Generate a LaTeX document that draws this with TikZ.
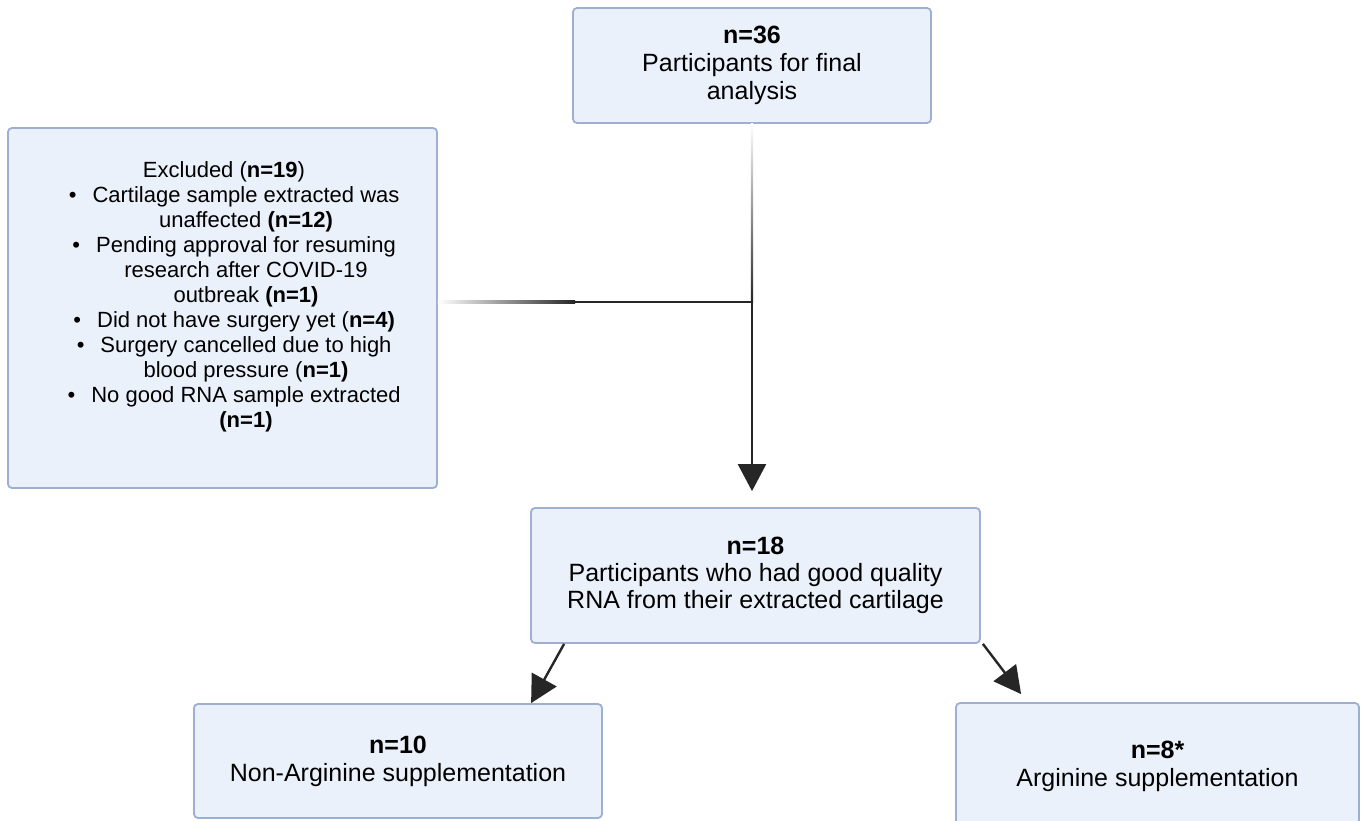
\documentclass[tikz,border=0pt]{standalone}
\usepackage{fontspec}
\setmainfont{Liberation Sans}
\usepackage{tikz}
\usetikzlibrary{arrows.meta}
\usetikzlibrary{calc}

\definecolor{boxfill}{HTML}{EBF1FB}
\definecolor{boxline}{HTML}{9DB0D2}
\definecolor{linecol}{HTML}{262626}
\newcommand{\bul}{\llap{\textbullet\hspace{16pt}}}

\begin{document}
\begin{tikzpicture}[x=1pt, y=-1pt, line width=1pt,
    box/.style={draw=boxline, fill=boxfill, line width=1.8pt, rounded corners=4pt, align=center, inner sep=0pt},
    bigtext/.style={font=\fontsize{25}{28}\selectfont},
    conn/.style={draw=linecol, line width=2.4pt},
    arr/.style={conn, -{Triangle[width=28pt, length=27pt]}}]
    \clip (0, 0) rectangle (1366, 820);

    % draw boxes
    \node[box, bigtext, minimum width=358, minimum height=115] (final) at (752, 65.5) {\textbf{n=36}\\Participants for final\\analysis};
    \node[box, minimum width=429, minimum height=360] (excl) at (222.5, 308) {};
    \node[font=\fontsize{22}{25}\selectfont, align=center, inner sep=0pt] (excltext) at (246, 297) {Excluded (\textbf{n=19})\hspace*{44pt}\\
        \bul Cartilage sample extracted was\\
        unaffected \textbf{(n=12)}\\
        \bul Pending approval for resuming\\
        research after COVID-19\\
        outbreak \textbf{(n=1)}\\
        \bul Did not have surgery yet (\textbf{n=4)}\\
        \bul Surgery cancelled due to high\\
        blood pressure (\textbf{n=1)}\\
        \bul No good RNA sample extracted\\
        \textbf{(n=1)}};
    \node[box, font=\fontsize{25}{27}\selectfont, minimum width=449, minimum height=135] (good) at (755.5, 575.5) {\textbf{n=18}\\Participants who had good quality\\RNA from their extracted cartilage};
    \node[box, bigtext, minimum width=408, minimum height=114] (nonarg) at (398, 761) {\textbf{n=10}\\Non-Arginine supplementation};
    \node[box, bigtext, minimum width=403, minimum height=127] (arg) at (1157.5, 766.5) {\textbf{n=8*}\\Arginine supplementation};

    % draw connectors
    \coordinate (junc) at (752, 302);
    \coordinate (fadeend) at (575, 302);
    \shade[left color=white, right color=linecol] ($(excl.east |- junc)+(0,-1.2)$) rectangle ($(fadeend)+(0,1.2)$);
    \draw[conn] (fadeend) -- (junc);
    \shade[top color=white, bottom color=linecol] ($(final.south -| junc)+(-1.2,0)$) rectangle ($(junc)+(1.2,0)$);
    \draw[arr, shorten >=16pt] (junc) -- (junc |- good.north);

    % draw split arrows
    \draw[arr] ($(good.south west)+(34,0)$) -- ($(nonarg.north west)+(338,0)$);
    \draw[arr] ($(good.south east)+(2,0)$) -- ($(arg.north west)+(66,-8)$);
\end{tikzpicture}
\end{document}
